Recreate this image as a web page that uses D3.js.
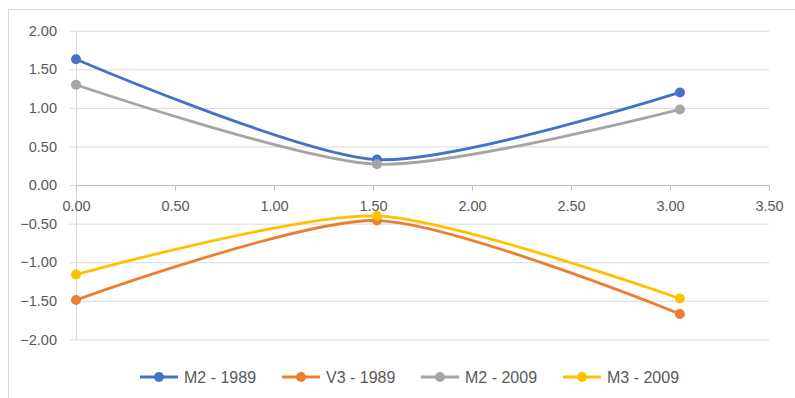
<!DOCTYPE html>
<html>
<head>
<meta charset="utf-8">
<script src="https://cdn.jsdelivr.net/npm/d3@7"></script>
<style>
  body { margin: 0; background: #fff; }
  text { font-family: "Liberation Sans", Arial, sans-serif; fill: #595959; }
</style>
</head>
<body>
<svg id="chart" width="795" height="398"></svg>
<script>
const xValues = [0, 1.52, 3.05];
const seriesNames = ["M2 - 1989", "V3 - 1989", "M2 - 2009", "M3 - 2009"];
const seriesColors = ["#4472C4", "#ED7D31", "#A5A5A5", "#FFC000"];
const m2_1989 = [1.63, 0.33, 1.20];
const v3_1989 = [-1.49, -0.46, -1.67];
const m2_2009 = [1.30, 0.27, 0.98];
const m3_2009 = [-1.16, -0.40, -1.47];
const xTicks = [0, 0.5, 1, 1.5, 2, 2.5, 3, 3.5];
const yTicks = [-2, -1.5, -1, -0.5, 0, 0.5, 1, 1.5, 2];

const seriesValues = [m2_1989, v3_1989, m2_2009, m3_2009];

let width = 795;
let height = 398;
let margin = ({top: 30.7, right: 26, bottom: 58.6, left: 76});

let svg = d3.select('#chart');

// chart border
svg.append("rect")
  .attr("x", 8.5).attr("y", 9.5)
  .attr("width", 800).attr("height", 400)
  .attr("fill", "none")
  .attr("stroke", "#d9d9d9");

var x = d3.scaleLinear().domain([0, 3.5]).range([margin.left, width - margin.right]);
var y = d3.scaleLinear().domain([-2, 2]).range([height - margin.bottom, margin.top]);

// Gridlines
svg.append("g")
  .attr("transform", `translate(${margin.left - 7}, 0)`)
  .call(d3.axisLeft(y).tickValues(yTicks).tickFormat("").tickSize(-(x(3.5) - margin.left + 7)))
  .call(g => g.select(".domain").remove())
  .call(g => g.selectAll("line").attr("stroke", "#d9d9d9"));

// Y axis
let yAxis = d3.axisLeft(y).tickValues(yTicks).tickFormat(d3.format(".2f")).tickSize(0).tickPadding(19);
svg.append("g").call(yAxis)
  .attr("transform", `translate(${margin.left}, 0)`)
  .call(g => g.select(".domain").attr("stroke", "#d9d9d9"))
  .call(g => g.selectAll("text").attr("font-size", 14.5).attr("font-family", null).attr("fill", "#595959"));

// X axis at y = 0
let xAxis = d3.axisBottom(x).tickValues(xTicks).tickFormat(d3.format(".2f")).tickSize(6).tickSizeOuter(0).tickPadding(10);
svg.append("g").call(xAxis)
  .attr("transform", `translate(0, ${y(0)})`)
  .call(g => g.select(".domain").attr("stroke", "#bfbfbf"))
  .call(g => g.selectAll("line").attr("stroke", "#bfbfbf"))
  .call(g => g.selectAll("text").attr("font-size", 14.5).attr("font-family", null).attr("fill", "#595959"));

// smoothed lines, roughly like Excel's
var line = d3.line()
  .x((d, i) => x(xValues[i]))
  .y(d => y(d))
  .curve(d3.curveCardinal.tension(0.25));

seriesValues.forEach((vals, s) => {
  svg.append("path")
    .datum(vals)
    .attr("fill", "none")
    .attr("stroke", seriesColors[s])
    .attr("stroke-width", 2.8)
    .attr("stroke-linecap", "round")
    .attr("d", line);
  svg.append("g").selectAll("circle")
    .data(vals)
    .join("circle")
    .attr("cx", (d, i) => x(xValues[i]))
    .attr("cy", d => y(d))
    .attr("r", 5)
    .attr("fill", seriesColors[s]);
});

// Legend
const legendX = [140, 282, 421, 563];
let legend = svg.append("g").attr("transform", "translate(0, 377)");
seriesNames.forEach((name, s) => {
  let g = legend.append("g").attr("transform", `translate(${legendX[s]}, 0)`);
  g.append("line")
    .attr("x1", 0).attr("x2", 38)
    .attr("stroke", seriesColors[s])
    .attr("stroke-width", 2.8);
  g.append("circle").attr("cx", 19).attr("r", 5).attr("fill", seriesColors[s]);
  g.append("text")
    .attr("x", 44)
    .attr("y", 5.5)
    .attr("font-size", 16)
    .text(name);
});
</script>
</body>
</html>
